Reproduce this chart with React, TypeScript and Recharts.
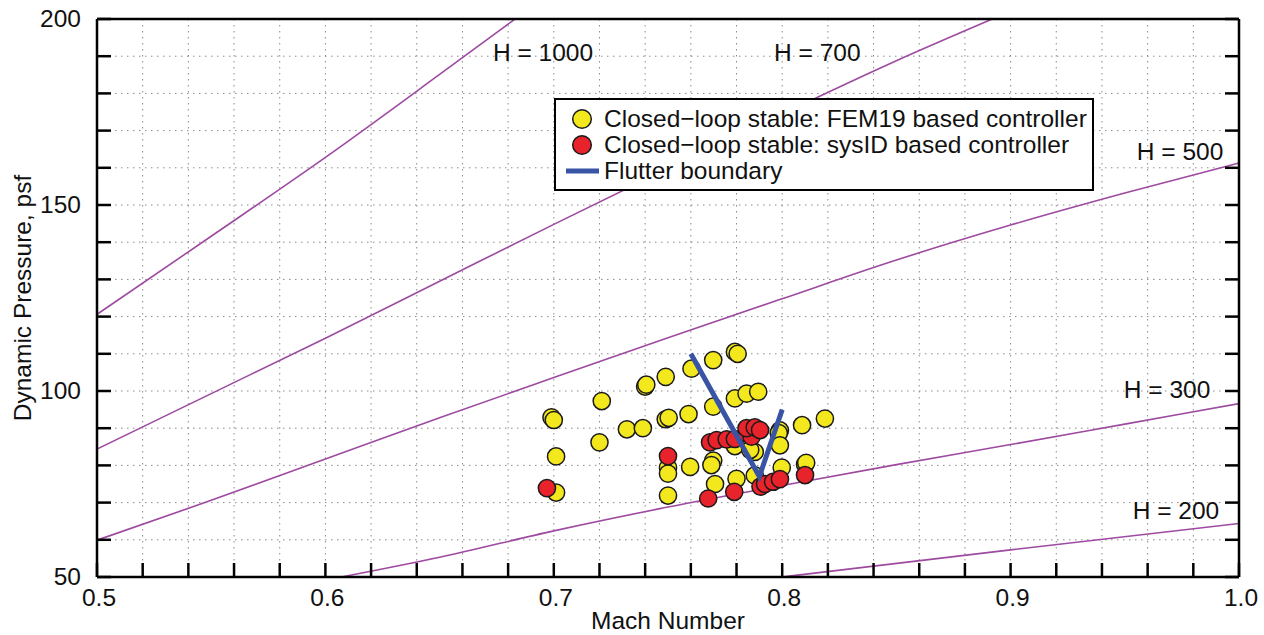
import React from "react"
import {
  ComposedChart,
  Line,
  Scatter,
  XAxis,
  YAxis,
  CartesianGrid,
  Legend,
  ReferenceDot,
} from "recharts"

// axis ticks
const machTicks = [
  0.5, 0.52, 0.54, 0.56, 0.58, 0.6, 0.62, 0.64, 0.66, 0.68, 0.7, 0.72, 0.74,
  0.76, 0.78, 0.8, 0.82, 0.84, 0.86, 0.88, 0.9, 0.92, 0.94, 0.96, 0.98, 1.0,
]
const machLabels = [0.5, 0.6, 0.7, 0.8, 0.9, 1.0]
const pressureTicks = [50, 60, 70, 80, 90, 100, 110, 120, 130, 140, 150, 160, 170, 180, 190, 200]
const pressureLabels = [50, 100, 150, 200]

// constant-H lines, [mach, q]
const h1000: [number, number][] = [[0.5, 120.6], [0.55, 141.6], [0.6, 162.8], [0.65, 185.1], [0.683, 200]]
const h700: [number, number][] = [
  [0.5, 84.4], [0.55, 99.3], [0.6, 114.2], [0.65, 129.5], [0.7, 144.8],
  [0.75, 159.8], [0.8, 174.5], [0.85, 188.8], [0.892, 200],
]
const h500: [number, number][] = [
  [0.5, 59.9], [0.55, 70.6], [0.6, 81.7], [0.65, 92.8], [0.7, 103.6], [0.75, 114.3],
  [0.8, 124.8], [0.85, 135.2], [0.9, 144.6], [0.95, 153.2], [1.0, 161.3],
]
const h300: [number, number][] = [
  [0.607, 50], [0.65, 55.3], [0.7, 62.4], [0.75, 68.8], [0.8, 74.6],
  [0.85, 80.2], [0.9, 85.6], [0.95, 91.1], [1.0, 96.6],
]
const h200: [number, number][] = [[0.8, 50], [0.9, 57.3], [1.0, 64.4]]

// H labels: [text, mach, q]
const hLabels: [string, number, number][] = [
  ["H = 1000", 0.6953, 190.9],
  ["H = 700", 0.8154, 190.9],
  ["H = 500", 0.9742, 164.5],
  ["H = 300", 0.9685, 100.3],
  ["H = 200", 0.9724, 67.8],
]

// closed-loop stable points, [mach, q]
const femPoints: [number, number][] = [
  [0.699, 92.9], [0.7, 92.2], [0.701, 82.4], [0.701, 72.7], [0.721, 97.3], [0.72, 86.2],
  [0.732, 89.7], [0.739, 90.0], [0.74, 101.2], [0.7405, 101.7], [0.749, 103.8], [0.749, 92.4],
  [0.7503, 92.8], [0.75, 79.4], [0.75, 77.8], [0.75, 71.9], [0.759, 93.8], [0.7603, 106.0],
  [0.7597, 79.6], [0.7698, 108.3], [0.7793, 110.5], [0.7805, 110.0], [0.7698, 95.8],
  [0.7793, 98.0], [0.7844, 99.3], [0.7895, 99.8], [0.7698, 81.3], [0.769, 80.1],
  [0.7793, 85.2], [0.788, 83.6], [0.786, 84.2], [0.799, 89.4], [0.7985, 88.7], [0.799, 85.4],
  [0.7998, 79.4], [0.8087, 90.8], [0.8187, 92.6], [0.81, 80.3], [0.8105, 80.7],
  [0.7706, 75.0], [0.78, 76.4], [0.788, 77.3],
]
const sysIdPoints: [number, number][] = [
  [0.697, 73.9], [0.75, 82.5], [0.7684, 86.2], [0.7713, 86.8], [0.7757, 87.0], [0.7793, 87.1],
  [0.7844, 88.6], [0.7866, 87.7], [0.7844, 90.0], [0.788, 90.2], [0.7903, 89.5],
  [0.7676, 71.1], [0.779, 72.9], [0.7905, 74.3], [0.7925, 75.0], [0.796, 75.6], [0.799, 76.3],
  [0.81, 77.4],
]

// flutter boundary
const flutterBoundary: [number, number][] = [[0.76, 110], [0.79, 77], [0.8, 95]]

const FONT = "'Liberation Sans', Arial, Helvetica, sans-serif"
const FS = 24.5
const PURPLE = "#9d4aa0"
const YELLOW = "#f3e81d"
const RED = "#e8232b"
const BLUE = "#3a54a5"

const toRows = (pts: [number, number][]) => pts.map(([m, q]) => ({ m, q }))

const BottomTick = ({ x, y, payload }: any) => {
  const v = payload.value
  const major = machLabels.some((l) => Math.abs(l - v) < 1e-6)
  return (
    <g>
      <line x1={x} y1={y} x2={x} y2={y - 14} stroke="#000" strokeWidth={2.5} />
      {major && (
        <text x={x + 2} y={y + 29} textAnchor="middle" fontSize={FS} fontFamily={FONT} fill="#111">
          {v.toFixed(1)}
        </text>
      )}
    </g>
  )
}

const TopTick = ({ x, y }: any) => (
  <line x1={x} y1={y} x2={x} y2={y + 14} stroke="#000" strokeWidth={2.5} />
)

const LeftTick = ({ x, y, payload }: any) => {
  const v = payload.value
  const major = pressureLabels.includes(v)
  return (
    <g>
      <line x1={x} y1={y} x2={x + 14} y2={y} stroke="#000" strokeWidth={2.5} />
      {major && (
        <text x={x - 16} y={y} dy={8} textAnchor="end" fontSize={FS} fontFamily={FONT} fill="#111">
          {v}
        </text>
      )}
    </g>
  )
}

const RightTick = ({ x, y }: any) => (
  <line x1={x} y1={y} x2={x - 14} y2={y} stroke="#000" strokeWidth={2.5} />
)

const XLabel = ({ viewBox }: any) => (
  <text
    x={viewBox.x + viewBox.width / 2}
    y={viewBox.y + 52}
    textAnchor="middle"
    fontSize={FS}
    fontFamily={FONT}
    fill="#111"
  >
    Mach Number
  </text>
)

const YLabel = ({ viewBox }: any) => {
  const cx = 31
  const cy = viewBox.y + viewBox.height / 2
  return (
    <text
      x={cx}
      y={cy}
      transform={`rotate(-90 ${cx} ${cy})`}
      textAnchor="middle"
      fontSize={FS}
      fontFamily={FONT}
      fill="#111"
    >
      Dynamic Pressure, psf
    </text>
  )
}

const Marker = (fill: string) => (props: any) => (
  <circle cx={props.cx} cy={props.cy} r={8.6} fill={fill} stroke="#1a1a1a" strokeWidth={1.5} />
)

const NoMarker = () => null

const LegendBox = () => {
  const rows = [
    { kind: "dot", color: YELLOW, text: "Closed\u2212loop stable: FEM19 based controller" },
    { kind: "dot", color: RED, text: "Closed\u2212loop stable: sysID based controller" },
    { kind: "line", color: BLUE, text: "Flutter boundary" },
  ]
  return (
    <div
      style={{
        width: 540,
        height: 93,
        boxSizing: "border-box",
        border: "2px solid #000",
        background: "#fff",
        paddingTop: 6,
        fontFamily: FONT,
        fontSize: FS,
        color: "#111",
      }}
    >
      {rows.map((r) => (
        <div key={r.text} style={{ display: "flex", alignItems: "center", height: 26 }}>
          <svg width={48} height={26} style={{ flex: "none" }}>
            {r.kind === "dot" ? (
              <circle cx={26} cy={13} r={9.3} fill={r.color} stroke="#1a1a1a" strokeWidth={1.5} />
            ) : (
              <line x1={10} y1={13} x2={43} y2={13} stroke={r.color} strokeWidth={5} />
            )}
          </svg>
          <span style={{ lineHeight: "26px", whiteSpace: "nowrap" }}>{r.text}</span>
        </div>
      ))}
    </div>
  )
}

export default function App() {
  const hLines = [h1000, h700, h500, h300, h200]
  return (
    <div style={{ position: "absolute", left: 0, top: 0, background: "#fff" }}>
      <ComposedChart width={1264} height={635} margin={{ top: 18, right: 24, bottom: 0, left: 0 }}>
        <CartesianGrid stroke="#8a8a8a" strokeWidth={1} strokeDasharray="1.5 4.5" />
        <XAxis
          dataKey="m"
          type="number"
          domain={[0.5, 1.0]}
          allowDataOverflow
          ticks={machTicks}
          interval={0}
          height={58}
          tickSize={0}
          tickMargin={0}
          tick={<BottomTick />}
          axisLine={{ stroke: "#000", strokeWidth: 2.5 }}
          label={<XLabel />}
        />
        <XAxis
          xAxisId="top"
          orientation="top"
          type="number"
          domain={[0.5, 1.0]}
          allowDataOverflow
          ticks={machTicks}
          interval={0}
          height={1}
          tickSize={0}
          tickMargin={0}
          tick={<TopTick />}
          axisLine={{ stroke: "#000", strokeWidth: 2.5 }}
        />
        <YAxis
          dataKey="q"
          type="number"
          domain={[50, 200]}
          allowDataOverflow
          ticks={pressureTicks}
          interval={0}
          width={97}
          tickSize={0}
          tickMargin={0}
          tick={<LeftTick />}
          axisLine={{ stroke: "#000", strokeWidth: 2.5 }}
          label={<YLabel />}
        />
        <YAxis
          yAxisId="right"
          orientation="right"
          type="number"
          domain={[50, 200]}
          allowDataOverflow
          ticks={pressureTicks}
          interval={0}
          width={1}
          tickSize={0}
          tickMargin={0}
          tick={<RightTick />}
          axisLine={{ stroke: "#000", strokeWidth: 2.5 }}
        />
        {hLines.map((pts, i) => (
          <Line
            key={i}
            data={toRows(pts)}
            dataKey="q"
            type="monotone"
            stroke={PURPLE}
            strokeWidth={1.6}
            dot={false}
            activeDot={false}
            isAnimationActive={false}
            legendType="none"
          />
        ))}
        <Scatter data={toRows(femPoints)} dataKey="q" shape={Marker(YELLOW)} isAnimationActive={false} />
        <Scatter data={toRows(sysIdPoints)} dataKey="q" shape={Marker(RED)} isAnimationActive={false} />
        {/* flutter boundary drawn as a joined scatter so it sits above the markers */}
        <Scatter
          data={toRows(flutterBoundary)}
          dataKey="q"
          shape={NoMarker}
          line={{ stroke: BLUE, strokeWidth: 5 }}
          lineType="joint"
          isAnimationActive={false}
        />
        {hLabels.map(([t, m, q]) => (
          <ReferenceDot
            key={t}
            x={m}
            y={q}
            r={0}
            shape={(p: any) => (
              <text
                x={p.cx}
                y={p.cy}
                dy={8.5}
                textAnchor="middle"
                fontSize={FS}
                fontFamily={FONT}
                fill="#111"
              >
                {t}
              </text>
            )}
          />
        ))}
        <Legend
          layout="vertical"
          align="center"
          verticalAlign="middle"
          wrapperStyle={{ left: 554, top: 98, width: 540 }}
          content={<LegendBox />}
        />
      </ComposedChart>
    </div>
  )
}
